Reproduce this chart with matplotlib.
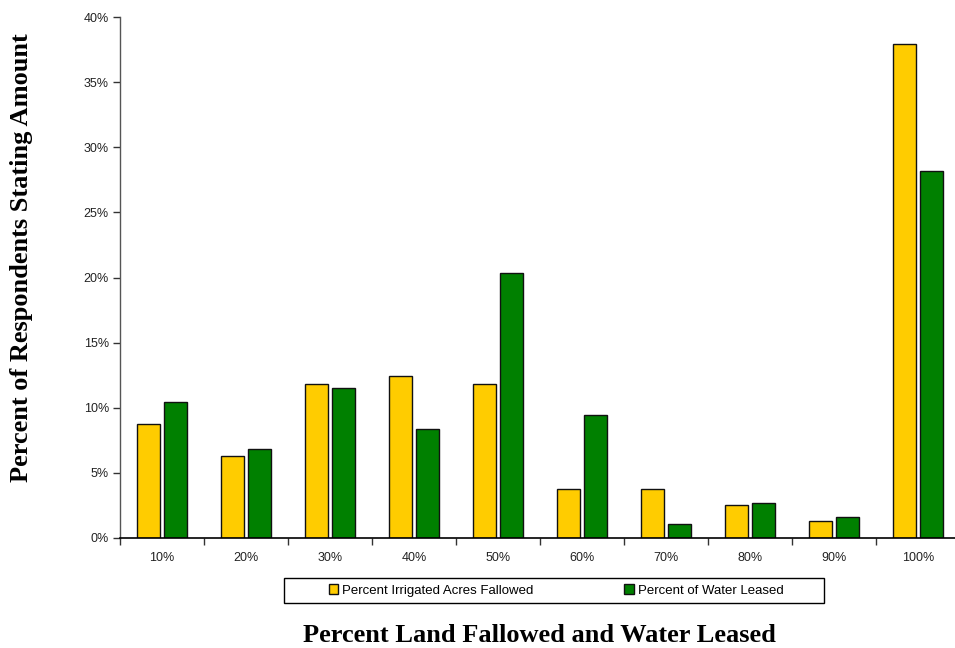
import matplotlib
matplotlib.use("Agg")
import matplotlib.pyplot as plt
from matplotlib.patches import Rectangle
from matplotlib.ticker import PercentFormatter, FixedLocator
import numpy as np

categories = ["10%", "20%", "30%", "40%", "50%", "60%", "70%", "80%", "90%", "100%"]
acres_fallowed = [8.77, 6.27, 11.85, 12.46, 11.85, 3.79, 3.79, 2.53, 1.30, 37.95]
water_leased = [10.46, 6.83, 11.52, 8.37, 20.37, 9.44, 1.10, 2.66, 1.64, 28.20]
series_names = ["Percent Irrigated Acres Fallowed", "Percent of Water Leased"]

W, H = 955, 648
fig = plt.figure(figsize=(W / 100, H / 100), dpi=100)
ax = fig.add_axes([120 / W, 1 - 538 / H, 840 / W, 521 / H])

x = np.arange(len(categories))
bw = 0.28
off = 0.163
b1 = ax.bar(x - off, acres_fallowed, bw, color="#FFCC00", edgecolor="#111111",
            linewidth=1.0, label=series_names[0])
b2 = ax.bar(x + off, water_leased, bw, color="#008000", edgecolor="#111111",
            linewidth=1.0, label=series_names[1])

ax.set_xlim(-0.5, len(categories) - 0.5)
ax.set_ylim(0, 40)
ax.set_yticks(np.arange(0, 41, 5))
ax.yaxis.set_major_formatter(PercentFormatter(decimals=0))
ax.set_xticks(x)
ax.set_xticklabels(categories)
ax.xaxis.set_minor_locator(FixedLocator(np.arange(-0.5, len(categories), 1.0)))
ax.tick_params(axis="x", which="major", length=0, pad=10, labelsize=9, labelcolor="#222222")
ax.tick_params(axis="x", which="minor", length=5, width=1, color="#333333", direction="out")
ax.tick_params(axis="y", length=5, width=1, color="#333333", labelsize=9,
               labelcolor="#222222", pad=3)
for s in ["top", "right"]:
    ax.spines[s].set_visible(False)
ax.spines["left"].set_color("#555555")
ax.spines["bottom"].set_color("#000000")
ax.spines["left"].set_linewidth(1)
ax.spines["bottom"].set_linewidth(1.2)

fig.text(22 / W, 1 - 258 / H, "Percent of Respondents Stating Amount", rotation=90,
         ha="center", va="center", family="Liberation Serif", weight="bold", fontsize=19)
fig.text(539 / W, 1 - 636 / H, "Percent Land Fallowed and Water Leased",
         ha="center", va="center", family="Liberation Serif", weight="bold", fontsize=19)

# legend frame and entries
fig.patches.append(Rectangle((284 / W, 1 - 603 / H), 540 / W, 25 / H,
                             transform=fig.transFigure, fill=False,
                             edgecolor="#000000", linewidth=1))
fig.legend(handles=[b1, b2], labels=series_names, loc="center",
           bbox_to_anchor=(556 / W, 1 - 590.5 / H), ncol=2, frameon=False,
           fontsize=9.5, handlelength=0.7, handleheight=0.7, handletextpad=0.3,
           columnspacing=6.9)

for t in ax.get_xticklabels() + ax.get_yticklabels():
    t.set_family("Liberation Sans")
for t in fig.legends[0].get_texts():
    t.set_family("Liberation Sans")

fig.savefig("out.png", dpi=100)
